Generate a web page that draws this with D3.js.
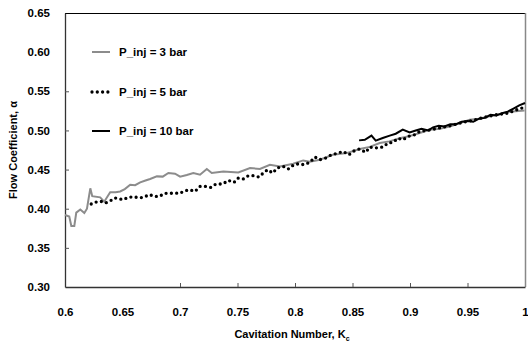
<!DOCTYPE html>
<html>
<head>
<meta charset="utf-8">
<script src="https://cdnjs.cloudflare.com/ajax/libs/d3/7.8.5/d3.min.js"></script>
<style>
  body { margin: 0; background: #fff; }
  text { font-family: "Liberation Sans", Arial, sans-serif; font-weight: bold; fill: #000; }
</style>
</head>
<body>
<svg width="528" height="345"></svg>
<script>
// P_inj = 3 bar (grey line)
var k3 = [0.6000,0.6037,0.6055,0.6081,0.6098,0.6133,0.6168,0.6191,0.6220,0.6237,0.6306,0.6341,0.6393,0.6440,0.6480,0.6520,0.6567,0.6610,0.6654,0.6700,0.6740,0.6799,0.6850,0.6899,0.6957,0.7001,0.7059,0.7116,0.7174,0.7233,0.7276,0.7377,0.7507,0.7609,0.7695,0.7782,0.7869,0.7984,0.8071,0.8129,0.8216,0.8329,0.8448,0.8563,0.8650,0.8737,0.8820,0.8910,0.9000,0.9084,0.9171,0.9260,0.9345,0.9430,0.9518,0.9600,0.9692,0.9780,0.9866,0.9996];
var a3 = [0.392,0.390,0.378,0.378,0.395,0.399,0.3945,0.400,0.426,0.416,0.4145,0.409,0.421,0.421,0.422,0.425,0.4307,0.430,0.4336,0.436,0.438,0.4413,0.441,0.4456,0.4447,0.441,0.443,0.4456,0.4434,0.4507,0.4456,0.4476,0.4464,0.452,0.4507,0.4562,0.454,0.4575,0.4617,0.460,0.4626,0.469,0.471,0.4763,0.479,0.484,0.486,0.490,0.493,0.4967,0.5009,0.502,0.505,0.509,0.5137,0.515,0.518,0.521,0.524,0.5256];

// P_inj = 5 bar (round dots)
var k5 = [0.6228,0.6272,0.6313,0.6352,0.6393,0.6431,0.6460,0.6503,0.6552,0.6595,0.6642,0.6682,0.6734,0.6778,0.6821,0.6865,0.6908,0.6951,0.6995,0.7038,0.7082,0.7131,0.7174,0.7218,0.7267,0.7313,0.7372,0.7420,0.7470,0.7507,0.7550,0.7594,0.7637,0.7687,0.7724,0.7762,0.7806,0.7845,0.7898,0.7941,0.7990,0.8036,0.8077,0.8129,0.8173,0.8216,0.8268,0.8318,0.8375,0.8418,0.8470,0.8520,0.8563,0.8615,0.8650,0.8694,0.8766,0.8809,0.8852,0.8896,0.8939,0.8983,0.9041,0.9084,0.9150,0.9250,0.9350,0.9450,0.9550,0.9650,0.9750,0.9850,0.9920,1.0000];
var a5 = [0.406,0.4086,0.4094,0.4073,0.410,0.4137,0.4132,0.4115,0.4145,0.4153,0.414,0.4145,0.418,0.4157,0.4157,0.4196,0.4196,0.420,0.4196,0.4226,0.4243,0.4221,0.4285,0.4285,0.4272,0.4316,0.4316,0.4362,0.4336,0.4392,0.438,0.4422,0.4422,0.4405,0.4456,0.4498,0.4456,0.452,0.454,0.4507,0.4562,0.4575,0.4562,0.4592,0.466,0.4626,0.4648,0.469,0.4711,0.4732,0.469,0.4745,0.4763,0.472,0.4788,0.4775,0.4788,0.484,0.4847,0.490,0.4881,0.4924,0.4945,0.4987,0.500,0.503,0.506,0.510,0.513,0.517,0.520,0.522,0.526,0.530];

// P_inj = 10 bar (black line)
var k10 = [0.8557,0.8607,0.8665,0.8702,0.8763,0.8824,0.8876,0.8937,0.8997,0.9050,0.9100,0.9160,0.9200,0.9250,0.9300,0.9350,0.9400,0.9450,0.9500,0.9550,0.9600,0.9650,0.9700,0.9750,0.9800,0.9850,0.9900,0.9950,1.0000];
var a10 = [0.4873,0.488,0.4933,0.4869,0.4903,0.4933,0.4958,0.501,0.4975,0.500,0.502,0.500,0.504,0.506,0.505,0.508,0.508,0.511,0.512,0.511,0.515,0.516,0.520,0.519,0.522,0.524,0.528,0.532,0.535];

var xTicks = [0.6,0.65,0.7,0.75,0.8,0.85,0.9,0.95,1];
var yTicks = [0.30,0.35,0.40,0.45,0.50,0.55,0.60,0.65];

var svg = d3.select("svg");
// NB: "top" is taken by window.top, so use pl/pr/pt/pb
var pl = 65, pr = 525, pt = 13, pb = 287;

var x = d3.scaleLinear().domain([0.6, 1]).range([pl, pr]);
var y = d3.scaleLinear().domain([0.30, 0.65]).range([pb, pt]);

// frame: top black, right grey
svg.append("line").attr("x1", pl).attr("x2", pr).attr("y1", pt + 0.5).attr("y2", pt + 0.5)
    .attr("stroke", "#000").attr("stroke-width", 1.2);
svg.append("line").attr("x1", pr + 0.5).attr("x2", pr + 0.5).attr("y1", pt).attr("y2", pb)
    .attr("stroke", "#888").attr("stroke-width", 1.5);

var xAxis = svg.append("g")
    .attr("transform", "translate(0," + pb + ")")
    .call(d3.axisBottom(x).tickValues(xTicks).tickSizeInner(-4).tickSizeOuter(0)
      .tickFormat(function(d) { return String(+d.toFixed(2)); }));
xAxis.selectAll("text").attr("dy", null).attr("y", 29).style("font-size", "11.5px");

var yAxis = svg.append("g")
    .attr("transform", "translate(" + pl + ",0)")
    .call(d3.axisLeft(y).tickValues(yTicks).tickSizeInner(-4).tickSizeOuter(0)
      .tickFormat(d3.format(".2f")));
yAxis.selectAll("text").attr("x", -15).style("font-size", "11.5px");

svg.selectAll(".domain").attr("stroke", "#333").attr("stroke-width", 1.3);
svg.selectAll(".tick line").attr("stroke", "#555");
svg.selectAll(".tick").filter(function(d) { return d === 0.6 || d === 0.30 || d === 0.65 || d === 1; })
    .select("line").remove();

function pts(ks, as) { return ks.map(function(k, i) { return [k, as[i]]; }); }

var line = d3.line().x(function(d) { return x(d[0]); }).y(function(d) { return y(d[1]); });

svg.append("path").datum(pts(k3, a3)).attr("d", line)
    .attr("fill", "none").attr("stroke", "#8c8c8c").attr("stroke-width", 2);

svg.append("path").datum(pts(k10, a10)).attr("d", line)
    .attr("fill", "none").attr("stroke", "#000").attr("stroke-width", 2);

svg.append("path").datum(pts(k5, a5)).attr("d", line)
    .attr("fill", "none").attr("stroke", "#000").attr("stroke-width", 3.3)
    .attr("stroke-linecap", "round").attr("stroke-dasharray", "0 5.3");

// legend
var legend = [
  {label: "P_inj = 3 bar", color: "#8c8c8c", w: 2, dash: null, cap: "butt", cy: 52},
  {label: "P_inj = 5 bar", color: "#000", w: 3.3, dash: "0 5.3", cap: "round", cy: 92},
  {label: "P_inj = 10 bar", color: "#000", w: 2, dash: null, cap: "butt", cy: 131}
];
var lg = svg.append("g").selectAll("g").data(legend).enter().append("g");
lg.append("line")
    .attr("x1", 92).attr("x2", 110)
    .attr("y1", function(d) { return d.cy; }).attr("y2", function(d) { return d.cy; })
    .attr("stroke", function(d) { return d.color; })
    .attr("stroke-width", function(d) { return d.w; })
    .attr("stroke-linecap", function(d) { return d.cap; })
    .attr("stroke-dasharray", function(d) { return d.dash; });
lg.append("text")
    .attr("x", 119).attr("y", function(d) { return d.cy + 4; })
    .style("font-size", "11.5px")
    .text(function(d) { return d.label; });

// axis titles
var xt = svg.append("text").attr("x", 292).attr("y", 338)
    .attr("text-anchor", "middle").style("font-size", "11px");
xt.append("tspan").text("Cavitation Number, K");
xt.append("tspan").attr("dy", 3).style("font-size", "7px").text("c");

svg.append("text")
    .attr("transform", "translate(17," + ((pt + pb) / 2) + ") rotate(-90)")
    .attr("text-anchor", "middle").style("font-size", "11px")
    .text("Flow Coefficient, α");
</script>
</body>
</html>
